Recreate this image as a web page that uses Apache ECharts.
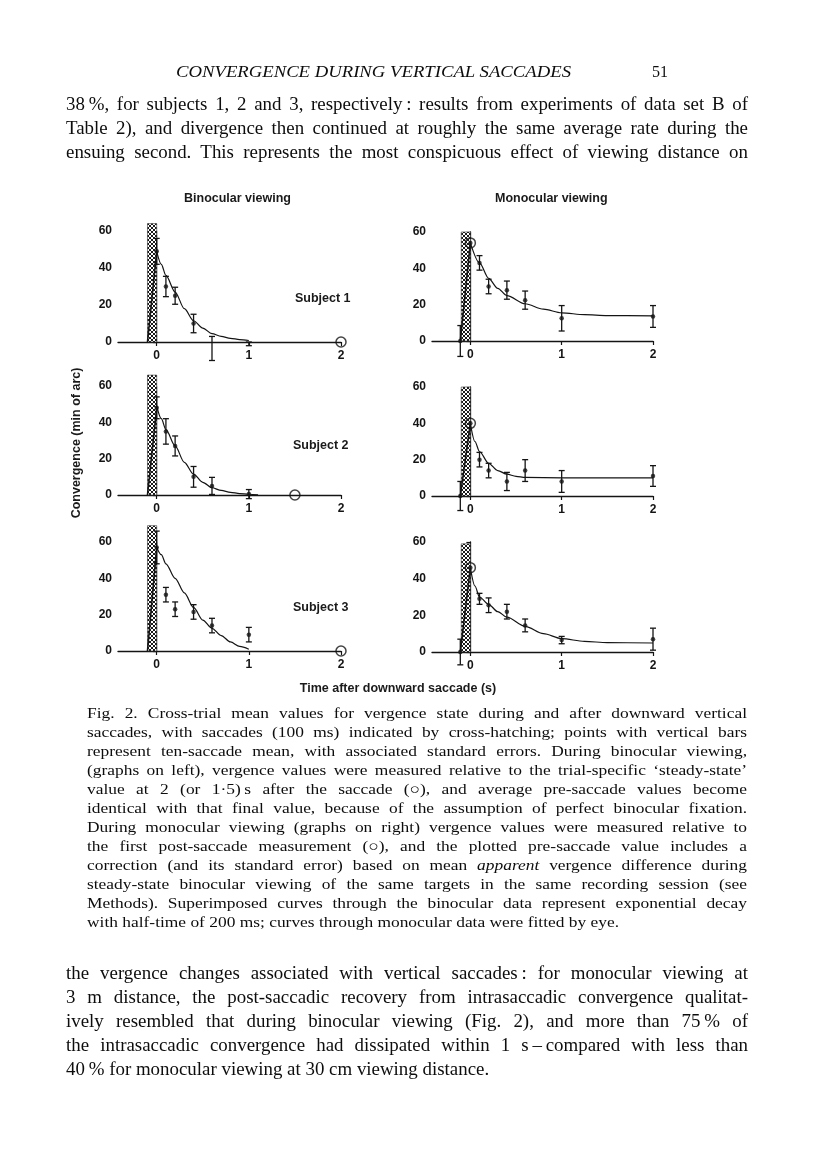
<!DOCTYPE html>
<html>
<head>
<meta charset="utf-8">
<script src="https://cdn.jsdelivr.net/npm/echarts@6/dist/echarts.min.js"></script>
<style>
html,body{margin:0;padding:0;background:#fff;}
#page{position:relative;width:816px;height:1169px;overflow:hidden;background:#fff;}
#chart{position:absolute;left:0;top:0;width:816px;height:1169px;}
.ln{position:absolute;white-space:nowrap;font-family:"Liberation Serif","DejaVu Serif",serif;color:#0d0d0d;z-index:5;}
</style>
</head>
<body>
<div id="page"><div id="chart"></div></div>
<script>
// ---------------- DATA ----------------
const binTimes = [0, 0.1, 0.2, 0.4, 0.6, 1.0];
const monTimes = [-0.11, 0.1, 0.2, 0.4, 0.6, 1.0, 2.0];

// Binocular viewing, subject 1
const b1Mean = [49, 30, 25, 10, -3.5, -1];
const b1Err  = [7, 5.5, 4.6, 5, 6.5, 1];
const b1CurveX = [0, 0.05, 0.1, 0.2, 0.3, 0.4, 0.5, 0.6, 0.7, 0.8, 0.9, 1.0];
const b1CurveY = [49, 42, 36, 27, 18, 11.5, 7.5, 4.5, 3, 2, 1.3, 0.8];
const b1Steady = [2, 0];
const b1Pre = [-0.1, 0];
const b1HatchTop = 64;

// Binocular viewing, subject 2
const b2Mean = [48, 35, 27, 10, 5, 0.5];
const b2Err  = [6, 7, 5.5, 5.7, 4.7, 2.5];
const b2CurveX = [0, 0.05, 0.1, 0.2, 0.3, 0.4, 0.5, 0.6, 0.7, 0.8, 0.9, 1.0, 1.1];
const b2CurveY = [49, 42, 36, 27, 18, 11.5, 7, 4, 2.5, 1.5, 0.8, 0.4, 0.1];
const b2Steady = [1.5, 0];
const b2Pre = [-0.1, 0];
const b2HatchTop = 66;

// Binocular viewing, subject 3
const b3Mean = [57, 31, 23, 21.5, 14, 9];
const b3Err  = [9, 4, 4, 4, 4, 4];
const b3CurveX = [0, 0.05, 0.1, 0.2, 0.3, 0.4, 0.5, 0.6, 0.7, 0.8, 0.9, 1.0];
const b3CurveY = [57, 53, 48, 40, 32, 24, 17, 12.5, 8.5, 5, 2.5, 1];
const b3Steady = [2, 0];
const b3Pre = [-0.1, 0];
const b3HatchTop = 69;

// Monocular viewing, subject 1
const m1Mean = [0, 43, 30, 28, 22.5, 12.5, 13.5];
const m1Err  = [8.5, 4, 4, 5, 5, 7, 6];
const m1First = [0, 54];
const m1CurveX = [0, 0.1, 0.2, 0.3, 0.4, 0.6, 0.8, 1.0, 1.25, 1.5, 2.0];
const m1CurveY = [54, 43, 34.5, 29, 25, 20.5, 17.5, 15.5, 14.5, 14, 13.8];
const m1HatchTop = 60;

// Monocular viewing, subject 2
const m2Mean = [0, 20, 14, 8, 14, 8, 11];
const m2Err  = [8, 4, 4, 5, 6, 6, 5.7];
const m2First = [0, 40];
const m2CurveX = [0, 0.05, 0.1, 0.2, 0.3, 0.4, 0.5, 0.6, 1.0, 1.5, 2.0];
const m2CurveY = [40, 30, 24.5, 18, 14, 12, 10.8, 10.2, 10, 10, 10];
const m2HatchTop = 60;

// Monocular viewing, subject 3
const m3Mean = [0, 29, 25.5, 22, 14.5, 6.5, 7];
const m3Err  = [7, 3, 4, 4, 3.5, 2, 6];
const m3First = [0, 46];
const m3CurveX = [0, 0.05, 0.1, 0.2, 0.3, 0.4, 0.6, 0.8, 1.0, 1.25, 1.5, 2.0];
const m3CurveY = [46, 36, 30, 26, 22, 19, 14, 10, 7.3, 5.8, 5.1, 4.9];
const m3HatchTop = 59;

const saccade = [-0.1, 0];          // saccade period (s), cross-hatched
const xTickValues = [0, 1, 2];
const yTickValues = [0, 20, 40, 60];
const xRange = [-0.42, 2];
const yRange = [0, 60];

// ---------------- TEXT ----------------
const headerText = "CONVERGENCE DURING VERTICAL SACCADES";
const pageNumber = "51";
const para1 = [
  "38\u2009%, for subjects 1, 2 and 3, respectively\u2009: results from experiments of data set B of",
  "Table 2), and divergence then continued at roughly the same average rate during the",
  "ensuing second. This represents the most conspicuous effect of viewing distance on"
];
const caption = [
  "Fig. 2. Cross-trial mean values for vergence state during and after downward vertical",
  "saccades, with saccades (100 ms) indicated by cross-hatching; points with vertical bars",
  "represent ten-saccade mean, with associated standard errors. During binocular viewing,",
  "(graphs on left), vergence values were measured relative to the trial-specific \u2018steady-state\u2019",
  "value at 2 (or 1\u00b75)\u2009s after the saccade (\u25CB), and average pre-saccade values become",
  "identical with that final value, because of the assumption of perfect binocular fixation.",
  "During monocular viewing (graphs on right) vergence values were measured relative to",
  "the first post-saccade measurement (\u25CB), and the plotted pre-saccade value includes a",
  "correction (and its standard error) based on mean <i>apparent</i> vergence difference during",
  "steady-state binocular viewing of the same targets in the same recording session (see",
  "Methods). Superimposed curves through the binocular data represent exponential decay",
  "with half-time of 200 ms; curves through monocular data were fitted by eye."
];
const para2 = [
  "the vergence changes associated with vertical saccades\u2009: for monocular viewing at",
  "3 m distance, the post-saccadic recovery from intrasaccadic convergence qualitat-",
  "ively resembled that during binocular viewing (Fig. 2), and more than 75\u2009% of",
  "the intrasaccadic convergence had dissipated within 1 s\u2009\u2013\u2009compared with less than",
  "40\u2009% for monocular viewing at 30 cm viewing distance."
];
const colTitles = ["Binocular viewing", "Monocular viewing"];
const subjectLabels = ["Subject 1", "Subject 2", "Subject 3"];
const yAxisTitle = "Convergence (min of arc)";
const xAxisTitle = "Time after downward saccade (s)";

// ---------------- PAGE TEXT LAYOUT ----------------
const page = document.getElementById('page');
function placeLine(html, x, yc, w, size, lh, mode, italic, maxScale) {
  const d = document.createElement('div');
  d.className = 'ln';
  d.innerHTML = html;
  d.style.left = x + 'px';
  d.style.top = (yc - lh / 2) + 'px';
  d.style.fontSize = size + 'px';
  d.style.lineHeight = lh + 'px';
  if (italic) d.style.fontStyle = 'italic';
  page.appendChild(d);
  const nat = d.getBoundingClientRect().width;
  d.style.transformOrigin = '0 50%';
  if (mode === 'fit') {
    d.style.transform = 'scaleX(' + (w / nat) + ')';
    return;
  }
  const s = Math.min(maxScale || 1, w / nat);
  d.style.transform = 'scaleX(' + s + ')';
  if (mode === 'justify') {
    const spaces = (d.textContent.match(/ /g) || []).length;
    if (spaces > 0) d.style.wordSpacing = ((w / s - nat) / spaces) + 'px';
  }
}
placeLine(headerText, 176, 72, 395, 16.5, 20, 'fit', true);
placeLine(pageNumber, 652, 72, 16, 17, 20, 'fit', false);
para1.forEach((t, i) => placeLine(t, 66, 104 + i * 24, 682, 18, 24, 'justify', false, 1.05));
caption.forEach((t, i) => placeLine(t, 87, 713 + i * 19, 660, 15, 19, i === caption.length - 1 ? 'left' : 'justify', false, 1.16));
para2.forEach((t, i) => placeLine(t, 66, 973 + i * 24, 682, 18, 24, i === para2.length - 1 ? 'left' : 'justify', false, 1.05));

// ---------------- CHART ----------------
const pc = document.createElement('canvas');
pc.width = 4; pc.height = 4;
const g = pc.getContext('2d');
g.fillStyle = '#fff'; g.fillRect(0, 0, 4, 4);
g.fillStyle = '#1a1a1a';
[[0,0],[3,0],[1,1],[2,1],[1,2],[2,2],[0,3],[3,3]].forEach(([a, b]) => g.fillRect(a, b, 1, 1));
const hatchPattern = { image: pc, repeat: 'repeat' };

const grids = [
  { left: 118, top: 231, width: 223, height: 111 },
  { left: 432, top: 232, width: 221, height: 109 },
  { left: 118, top: 386, width: 223, height: 109 },
  { left: 432, top: 387, width: 221, height: 109 },
  { left: 118, top: 542, width: 223, height: 109 },
  { left: 432, top: 542, width: 221, height: 110 }
];

const zip = (a, b) => a.map((v, i) => [v, b[i]]);
const errRows = (t, m, e) => t.map((v, i) => [v, m[i] - e[i], m[i] + e[i]]);

const panels = [
  { hatchTop: b1HatchTop, rise: [b1Pre, [binTimes[0], b1Mean[0]]], curve: zip(b1CurveX, b1CurveY), pts: zip(binTimes, b1Mean), err: errRows(binTimes, b1Mean, b1Err), circle: b1Steady },
  { hatchTop: m1HatchTop, rise: [[monTimes[0], m1Mean[0]], m1First], curve: zip(m1CurveX, m1CurveY), pts: zip(monTimes, m1Mean).concat([m1First]), err: errRows(monTimes, m1Mean, m1Err), circle: m1First },
  { hatchTop: b2HatchTop, rise: [b2Pre, [binTimes[0], b2Mean[0]]], curve: zip(b2CurveX, b2CurveY), pts: zip(binTimes, b2Mean), err: errRows(binTimes, b2Mean, b2Err), circle: b2Steady },
  { hatchTop: m2HatchTop, rise: [[monTimes[0], m2Mean[0]], m2First], curve: zip(m2CurveX, m2CurveY), pts: zip(monTimes, m2Mean).concat([m2First]), err: errRows(monTimes, m2Mean, m2Err), circle: m2First },
  { hatchTop: b3HatchTop, rise: [b3Pre, [binTimes[0], b3Mean[0]]], curve: zip(b3CurveX, b3CurveY), pts: zip(binTimes, b3Mean), err: errRows(binTimes, b3Mean, b3Err), circle: b3Steady },
  { hatchTop: m3HatchTop, rise: [[monTimes[0], m3Mean[0]], m3First], curve: zip(m3CurveX, m3CurveY), pts: zip(monTimes, m3Mean).concat([m3First]), err: errRows(monTimes, m3Mean, m3Err), circle: m3First }
];

const ink = '#141414';
const figFont = '"Liberation Sans", Arial, Helvetica, sans-serif';

function hatchItem(params, api) {
  const p0 = api.coord([api.value(0), api.value(2)]);
  const p1 = api.coord([api.value(1), 0]);
  return {
    type: 'rect',
    shape: { x: p0[0], y: p0[1], width: p1[0] - p0[0], height: p1[1] - p0[1] },
    style: { fill: hatchPattern, stroke: '#333', lineWidth: 0.6 }
  };
}
function errItem(params, api) {
  const x = api.value(0);
  const lo = api.coord([x, api.value(1)]);
  const hi = api.coord([x, api.value(2)]);
  const c = 3;
  const st = { stroke: ink, lineWidth: 1.3 };
  return {
    type: 'group',
    children: [
      { type: 'line', shape: { x1: lo[0], y1: lo[1], x2: hi[0], y2: hi[1] }, style: st },
      { type: 'line', shape: { x1: lo[0] - c, y1: lo[1], x2: lo[0] + c, y2: lo[1] }, style: st },
      { type: 'line', shape: { x1: hi[0] - c, y1: hi[1], x2: hi[0] + c, y2: hi[1] }, style: st }
    ]
  };
}

const labelStyle = { color: ink, fontFamily: figFont, fontWeight: 'bold', fontSize: 12 };
const xAxes = [], yAxes = [], series = [];
panels.forEach((p, i) => {
  xAxes.push({
    type: 'value', gridIndex: i, min: xRange[0], max: xRange[1],
    axisLine: { show: true, onZero: false, lineStyle: { color: ink, width: 1.3 } },
    axisTick: { show: true, customValues: xTickValues, length: 4, lineStyle: { color: ink, width: 1.2 } },
    axisLabel: Object.assign({ customValues: xTickValues, margin: 8 }, labelStyle),
    splitLine: { show: false }
  });
  yAxes.push({
    type: 'value', gridIndex: i, min: yRange[0], max: yRange[1], interval: 20,
    axisLine: { show: true, lineStyle: { color: ink, width: 1.3 } },
    axisTick: { show: true, length: 4, lineStyle: { color: ink, width: 1.2 } },
    axisLabel: Object.assign({ margin: 6 }, labelStyle),
    splitLine: { show: false }
  });
  const ax = { xAxisIndex: i, yAxisIndex: i, silent: true, animation: false };
  series.push(Object.assign({ type: 'custom', clip: false, z: 1, renderItem: hatchItem,
    data: [[saccade[0], saccade[1], p.hatchTop]] }, ax));
  series.push(Object.assign({ type: 'line', data: p.rise, symbol: 'none', z: 3,
    lineStyle: { color: ink, width: 1.6 } }, ax));
  series.push(Object.assign({ type: 'line', data: p.curve, symbol: 'none', smooth: 0.3, smoothMonotone: 'x', z: 3,
    lineStyle: { color: ink, width: 1.2 } }, ax));
  series.push(Object.assign({ type: 'custom', clip: false, z: 4, renderItem: errItem, data: p.err }, ax));
  series.push(Object.assign({ type: 'scatter', data: p.pts, symbolSize: 4.5, z: 5,
    itemStyle: { color: ink } }, ax));
  series.push(Object.assign({ type: 'scatter', data: [p.circle], symbolSize: 10, z: 6,
    itemStyle: { color: 'rgba(255,255,255,0)', borderColor: ink, borderWidth: 1.5 } }, ax));
});

const textStyleBase = { fill: '#1a1a1a', font: 'bold 12.5px ' + figFont };
const graphics = [
  { type: 'text', left: 184, top: 192, style: Object.assign({ text: colTitles[0] }, textStyleBase) },
  { type: 'text', left: 495, top: 192, style: Object.assign({ text: colTitles[1] }, textStyleBase) },
  { type: 'text', left: 295, top: 292, style: Object.assign({ text: subjectLabels[0] }, textStyleBase) },
  { type: 'text', left: 293, top: 439, style: Object.assign({ text: subjectLabels[1] }, textStyleBase) },
  { type: 'text', left: 293, top: 601, style: Object.assign({ text: subjectLabels[2] }, textStyleBase) },
  { type: 'text', x: 77, y: 443, rotation: Math.PI / 2,
    style: Object.assign({ text: yAxisTitle, align: 'center', verticalAlign: 'middle' }, textStyleBase) },
  { type: 'text', x: 398, y: 689,
    style: Object.assign({ text: xAxisTitle, align: 'center', verticalAlign: 'middle' }, textStyleBase) }
];

const chart = echarts.init(document.getElementById('chart'), null, { renderer: 'canvas' });
chart.setOption({
  backgroundColor: '#fff',
  animation: false,
  grid: grids,
  xAxis: xAxes,
  yAxis: yAxes,
  series: series,
  graphic: graphics
});
</script>
</body>
</html>
